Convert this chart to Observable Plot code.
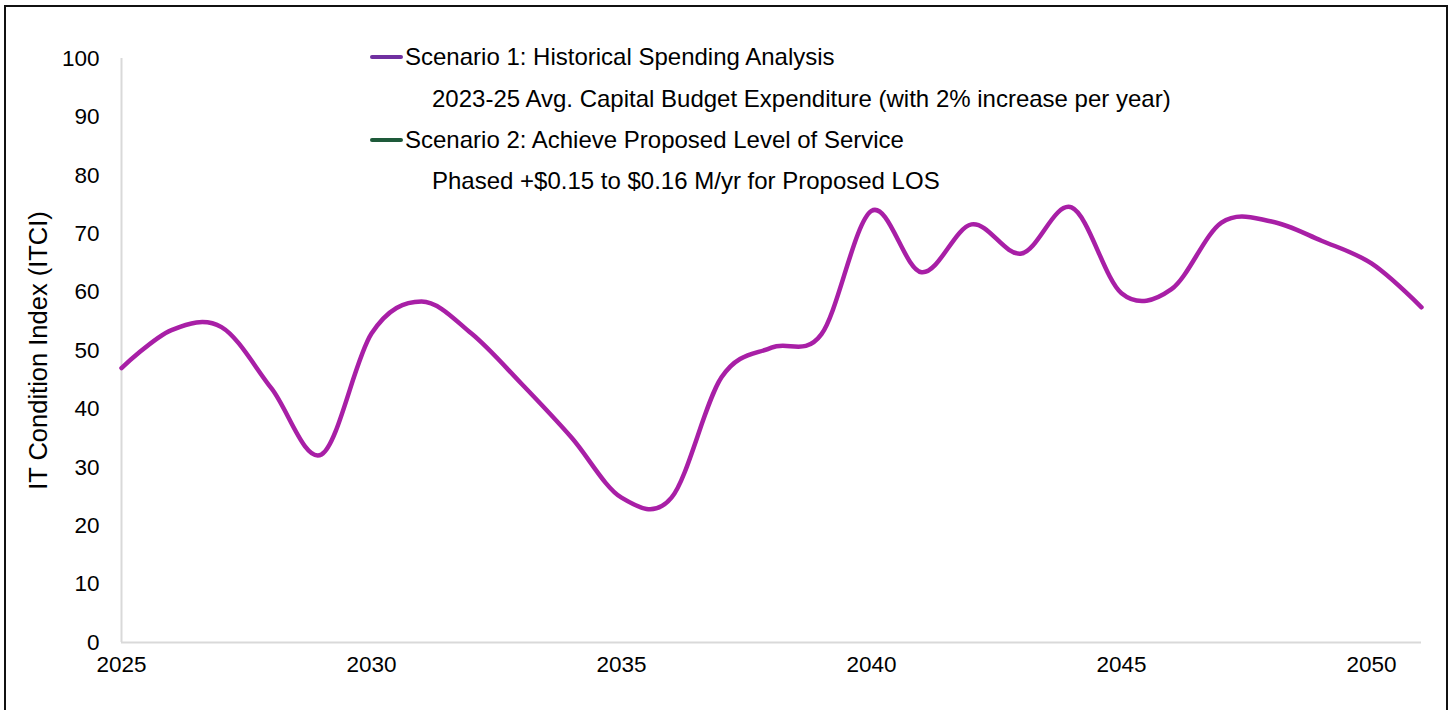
<!DOCTYPE html>
<html>
<head>
<meta charset="utf-8">
<script src="https://cdn.jsdelivr.net/npm/d3@7"></script>
<script src="https://cdn.jsdelivr.net/npm/@observablehq/plot@0.6"></script>
<style>
  html, body { margin: 0; padding: 0; background: #fff; overflow: hidden; }
  #frame { position: absolute; left: 4px; top: 5px; width: 1440px; height: 710px; border: 2px solid #111; background: #fff; }
  #chart { position: absolute; left: 0; top: 0; }
  .leg { position: absolute; font-family: "Liberation Sans", Arial, sans-serif; font-size: 24px; color: #000; white-space: nowrap; line-height: 24px; }
  .sw { position: absolute; height: 4px; width: 33px; border-radius: 2px; }
</style>
</head>
<body>
<div id="frame">
  <div id="chart"></div>
</div>
<script>
// ---- data ----
const years = [2025, 2026, 2027, 2028, 2029, 2030, 2031, 2032, 2033, 2034, 2035, 2036, 2037, 2038,
               2039, 2040, 2041, 2042, 2043, 2044, 2045, 2046, 2047, 2048, 2049, 2050, 2051];
const itci  = [47.0, 53.5, 54.0, 43.5, 32.2, 52.9, 58.4, 52.9, 44.3, 35.1, 24.8, 24.8, 45.4, 50.5,
               52.8, 73.9, 63.4, 71.6, 66.6, 74.5, 59.8, 60.5, 71.9, 72.1, 68.8, 64.9, 57.4];
const xTicks = [2025, 2030, 2035, 2040, 2045, 2050];
const yTicks = [0, 10, 20, 30, 40, 50, 60, 70, 80, 90, 100];
const yTitle = "IT Condition Index (ITCI)";
const legendItems = [
  {label: "Scenario 1: Historical Spending Analysis", color: "#7030A0", swatch: true},
  {label: "2023-25 Avg. Capital Budget Expenditure (with 2% increase per year)", color: null, swatch: false},
  {label: "Scenario 2: Achieve Proposed Level of Service", color: "#1E5A3A", swatch: true},
  {label: "Phased +$0.15 to $0.16 M/yr for Proposed LOS", color: null, swatch: false}
];

const rows = years.map((y, i) => ({year: y, value: itci[i]}));
const axisGray = "#D9D9D9";

const chart = Plot.plot({
  width: 1440,
  height: 700,
  marginLeft: 115,
  marginRight: 25,
  marginTop: 51,
  marginBottom: 65,
  style: {fontFamily: "'Liberation Sans', Arial, sans-serif", fontSize: "22px", color: "#000", background: "transparent"},
  x: {domain: [2025, 2051], ticks: xTicks, tickFormat: d3.format("d")},
  y: {domain: [0, 100], ticks: yTicks},
  marks: [
    Plot.ruleX([2025], {y1: 0, y2: 100, stroke: axisGray, strokeWidth: 2}),
    Plot.ruleY([0], {x1: 2025, x2: 2051, stroke: axisGray, strokeWidth: 2}),
    Plot.axisX({ticks: xTicks, tickFormat: d3.format("d"), tickSize: 0, tickPadding: 14, label: null, fill: "#000", fontSize: 22.5}),
    Plot.axisY({ticks: yTicks, tickSize: 0, tickPadding: 22, label: null, fill: "#000", fontSize: 22.5}),
    Plot.text([yTitle], {frameAnchor: "left", text: d => d, rotate: -90, dx: -83, textAnchor: "middle", fontSize: 25.5, fill: "#000"}),
    Plot.line(rows, {x: "year", y: "value", stroke: "#A81FA6", strokeWidth: 4.5,
      curve: d3.curveCatmullRom.alpha(0), strokeLinecap: "round", strokeLinejoin: "round"})
  ]
});
document.getElementById("chart").appendChild(chart);

// ---- legend (inside plot area, top) ----
const frame = document.getElementById("frame");
const rowCenters = [50, 92, 133, 174]; // relative to frame content
legendItems.forEach((it, i) => {
  if (it.swatch) {
    const s = document.createElement("div");
    s.className = "sw";
    s.style.left = "364px";
    s.style.top = (rowCenters[i] - 2) + "px";
    s.style.background = it.color;
    frame.appendChild(s);
  }
  const t = document.createElement("div");
  t.className = "leg";
  t.textContent = it.label;
  t.style.left = (it.swatch ? 399 : 426) + "px";
  t.style.top = (rowCenters[i] - 12) + "px";
  frame.appendChild(t);
});
</script>
</body>
</html>
